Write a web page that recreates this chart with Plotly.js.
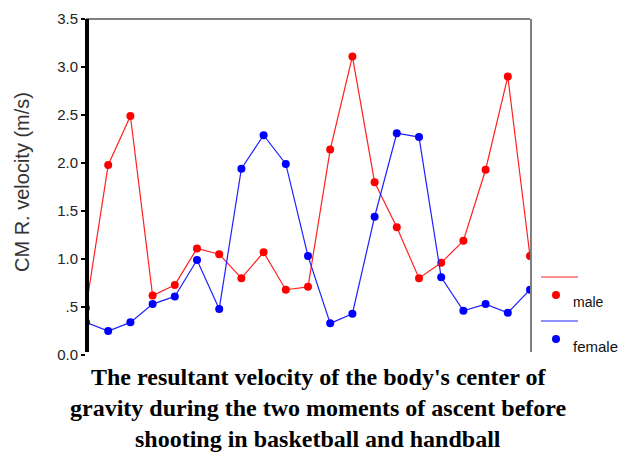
<!DOCTYPE html>
<html>
<head>
<meta charset="utf-8">
<script src="https://cdn.plot.ly/plotly-3.0.1.min.js"></script>
<style>html,body{margin:0;padding:0;background:#fff;}#chart{width:624px;height:452px;}</style>
</head>
<body>
<div id="chart"></div>
<script>
// Data
var sampleIndex = [0,1,2,3,4,5,6,7,8,9,10,11,12,13,14,15,16,17,18,19,20];
var maleVelocity = [0.49, 1.98, 2.49, 0.62, 0.73, 1.11, 1.05, 0.80, 1.07, 0.68, 0.71, 2.14, 3.11, 1.80, 1.33, 0.80, 0.96, 1.19, 1.93, 2.90, 1.03];
var femaleVelocity = [0.34, 0.25, 0.34, 0.53, 0.61, 0.99, 0.48, 1.94, 2.29, 1.99, 1.03, 0.33, 0.43, 1.44, 2.31, 2.27, 0.81, 0.46, 0.53, 0.44, 0.68];
var yTickVals = [0, 0.5, 1, 1.5, 2, 2.5, 3, 3.5];
var yTickText = ['0.0', '.5', '1.0', '1.5', '2.0', '2.5', '3.0', '3.5'];
var seriesNames = ['male', 'female'];
var yAxisTitle = 'CM R. velocity (m/s)';
var titleLines = [
  "The resultant velocity of the body's center of",
  "gravity during the two moments of ascent before",
  "shooting in basketball and handball"
];

var W = 624, H = 452;
var L = 86, R = 94, T = 19, B = 97;
var pw = W - L - R, ph = H - T - B;
function px(x) { return (x - L) / pw; }
function py(y) { return (H - B - y) / ph; }

var traces = [
  {x: sampleIndex, y: maleVelocity, name: seriesNames[0], type: 'scatter', mode: 'lines+markers',
   line: {color: '#ff2020', width: 1.2}, marker: {color: '#ff0000', size: 8}, cliponaxis: true},
  {x: sampleIndex, y: femaleVelocity, name: seriesNames[1], type: 'scatter', mode: 'lines+markers',
   line: {color: '#2020ff', width: 1.2}, marker: {color: '#0000ff', size: 8}, cliponaxis: true}
];

var ann = [];
var titleY = [377, 408, 439];
for (var i = 0; i < titleLines.length; i++) {
  ann.push({text: '<b>' + titleLines[i] + '</b>', xref: 'paper', yref: 'paper',
    x: px(318), y: py(titleY[i]), xanchor: 'center', yanchor: 'middle', showarrow: false,
    font: {family: '"Liberation Serif", "Times New Roman", serif', size: 24, color: '#000'}});
}
ann.push({text: yAxisTitle, xref: 'paper', yref: 'paper', x: px(22), y: py(182),
  xanchor: 'center', yanchor: 'middle', textangle: -90, showarrow: false,
  font: {family: '"Liberation Sans", Arial, sans-serif', size: 20, color: '#333'}});
ann.push({text: seriesNames[0], xref: 'paper', yref: 'paper', x: px(571), y: py(302),
  xanchor: 'left', yanchor: 'middle', showarrow: false,
  font: {family: '"Liberation Sans", Arial, sans-serif', size: 14, color: '#111'}});
ann.push({text: seriesNames[1], xref: 'paper', yref: 'paper', x: px(571), y: py(346),
  xanchor: 'left', yanchor: 'middle', showarrow: false,
  font: {family: '"Liberation Sans", Arial, sans-serif', size: 15, color: '#111'}});

var shapes = [
  {type: 'line', xref: 'paper', yref: 'paper', x0: 0, x1: 1, y0: 1, y1: 1, line: {color: '#555', width: 1.5}, layer: 'above'},
  {type: 'line', xref: 'paper', yref: 'paper', x0: px(531), x1: px(531), y0: py(352), y1: 1, line: {color: '#555', width: 1.5}, layer: 'above'},
  {type: 'line', xref: 'paper', yref: 'paper', x0: px(87), x1: px(87), y0: py(352), y1: 1, line: {color: '#000', width: 4}, layer: 'above'},
  {type: 'line', xref: 'paper', yref: 'paper', x0: px(541), x1: px(578), y0: py(277), y1: py(277), line: {color: '#ff2020', width: 1.2}},
  {type: 'line', xref: 'paper', yref: 'paper', x0: px(541), x1: px(578), y0: py(321), y1: py(321), line: {color: '#2020ff', width: 1.2}},
  {type: 'circle', xref: 'paper', yref: 'paper', xsizemode: 'pixel', ysizemode: 'pixel',
   xanchor: px(556), yanchor: py(295), x0: -4, x1: 4, y0: -4, y1: 4, fillcolor: '#ff0000', line: {width: 0}},
  {type: 'circle', xref: 'paper', yref: 'paper', xsizemode: 'pixel', ysizemode: 'pixel',
   xanchor: px(556), yanchor: py(339), x0: -4, x1: 4, y0: -4, y1: 4, fillcolor: '#0000ff', line: {width: 0}}
];

var layout = {
  width: W, height: H,
  margin: {l: L, r: R, t: T, b: B, pad: 0},
  paper_bgcolor: '#fff', plot_bgcolor: '#fff',
  showlegend: false,
  xaxis: {range: [0, 20], showgrid: false, zeroline: false, showline: false, showticklabels: false, ticks: '', fixedrange: true},
  yaxis: {range: [0, 3.5], tickvals: yTickVals, ticktext: yTickText, showgrid: false, zeroline: false,
    showline: false, ticks: 'outside', ticklen: 4, tickwidth: 2, tickcolor: '#000',
    tickfont: {family: '"Liberation Sans", Arial, sans-serif', size: 15, color: '#222'}, fixedrange: true},
  annotations: ann,
  shapes: shapes
};

Plotly.newPlot('chart', traces, layout, {displayModeBar: false, staticPlot: true});
</script>
</body>
</html>
